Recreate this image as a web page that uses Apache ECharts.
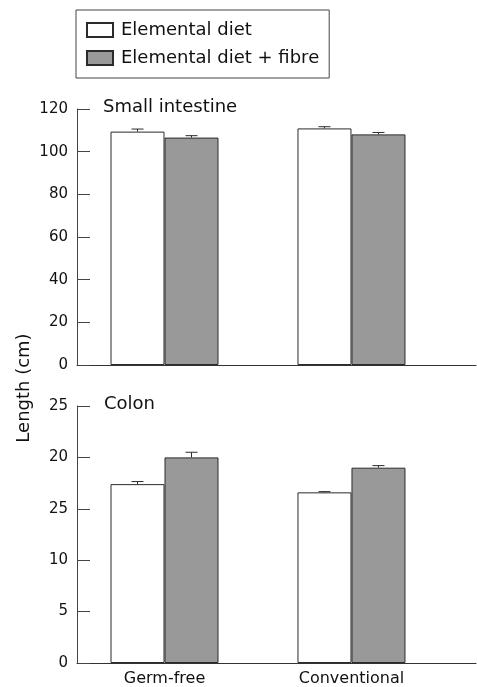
<!DOCTYPE html>
<html>
<head>
<meta charset="utf-8">
<script src="https://cdn.jsdelivr.net/npm/echarts@6/dist/echarts.min.js"></script>
<style>
  html, body { margin: 0; padding: 0; background: #fff; }
  #chart { width: 477px; height: 687px; }
</style>
</head>
<body>
<div id="chart"></div>
<script>
// groups on the x axis
const groups = ['Germ-free', 'Conventional']
const groupPos = [1, 2]
const seriesNames = ['Elemental diet', 'Elemental diet + fibre']

// small intestine length (cm), mean and SE
const siElemental = [109.4, 110.9]
const siElementalErr = [1.2, 0.8]
const siFibre = [106.6, 108.1]
const siFibreErr = [0.9, 0.9]

// colon length (cm), mean and SE
const colonElemental = [17.4, 16.6]
const colonElementalErr = [0.25, 0.07]
const colonFibre = [20.0, 19.0]
const colonFibreErr = [0.5, 0.2]

// tick labels as printed in the figure
const siTicks = ['0', '20', '40', '60', '80', '100', '120']
const colonTicks = ['0', '5', '10', '25', '20', '25']

const FONT = 'DejaVu Sans'
const BAR_W = 54
const edge = '#2b2b2b'

function pairs(vals, errs) {
  return groupPos.map((x, i) => [x, vals[i], errs ? errs[i] : 0])
}

function errSeries(name, xi, yi, vals, errs, off) {
  return {
    name: name,
    type: 'custom',
    xAxisIndex: xi,
    yAxisIndex: yi,
    z: 3,
    silent: true,
    data: pairs(vals, errs),
    renderItem: function(params, api) {
      const base = api.coord([api.value(0), api.value(1)])
      const top = api.coord([api.value(0), api.value(1) + api.value(2)])
      const cx = base[0] + off
      return {
        type: 'group',
        children: [
          { type: 'line', shape: { x1: cx, y1: base[1], x2: cx, y2: top[1] }, style: { stroke: edge, lineWidth: 1 } },
          { type: 'line', shape: { x1: cx - 6, y1: top[1], x2: cx + 6, y2: top[1] }, style: { stroke: edge, lineWidth: 1 } }
        ]
      }
    }
  }
}

function barSeries(name, xi, yi, vals, fill) {
  return {
    name: name,
    type: 'bar',
    xAxisIndex: xi,
    yAxisIndex: yi,
    barWidth: BAR_W,
    barGap: '0%',
    itemStyle: { color: fill, borderColor: edge, borderWidth: 1 },
    data: pairs(vals).map(d => [d[0], d[1]])
  }
}

function xAxisCfg(gi, showLabel) {
  return {
    type: 'value',
    gridIndex: gi,
    min: 0.532,
    max: 2.666,
    splitLine: { show: false },
    axisLine: { onZero: false, lineStyle: { color: '#333', width: 1 } },
    axisTick: { show: false },
    axisLabel: {
      show: showLabel,
      customValues: groupPos,
      margin: 8,
      color: '#111',
      fontFamily: FONT,
      fontSize: 16,
      formatter: v => groups[groupPos.indexOf(v)] || ''
    }
  }
}

function yAxisCfg(gi, max, interval, ticks) {
  return {
    type: 'value',
    gridIndex: gi,
    min: 0,
    max: max,
    interval: interval,
    splitLine: { show: false },
    axisLine: { show: true, onZero: false, lineStyle: { color: '#444', width: 1 } },
    axisTick: { show: true, inside: true, length: 13, lineStyle: { color: '#444' } },
    axisLabel: {
      margin: 9,
      color: '#111',
      fontFamily: FONT,
      fontSize: 15,
      formatter: v => ticks[Math.round(v / interval)]
    }
  }
}

const chart = echarts.init(document.getElementById('chart'))
const option = {
  animation: false,
  backgroundColor: '#fff',
  textStyle: { fontFamily: FONT },
  legend: {
    data: seriesNames,
    orient: 'vertical',
    left: 76,
    top: 10,
    padding: [10, 10, 10, 10],
    borderColor: '#444',
    borderWidth: 1,
    itemWidth: 26,
    itemHeight: 14,
    itemGap: 8,
    icon: 'rect',
    textStyle: { fontFamily: FONT, fontSize: 18, color: '#111', lineHeight: 20, padding: [0, 0, 0, 3] }
  },
  title: [
    { text: 'Small intestine', left: 103, top: 98, padding: 0, textStyle: { fontFamily: FONT, fontSize: 18, fontWeight: 'normal', color: '#111' } },
    { text: 'Colon', left: 104, top: 395, padding: 0, textStyle: { fontFamily: FONT, fontSize: 18, fontWeight: 'normal', color: '#111' } }
  ],
  graphic: [
    {
      type: 'text',
      x: 24,
      y: 388,
      rotation: Math.PI / 2,
      style: { text: 'Length (cm)', fontFamily: FONT, fontSize: 18, fill: '#111', align: 'center', verticalAlign: 'middle' }
    }
  ],
  grid: [
    { left: 77, right: 1, top: 109, height: 256, containLabel: false },
    { left: 77, right: 1, top: 406, height: 257, containLabel: false }
  ],
  xAxis: [xAxisCfg(0, false), xAxisCfg(1, true)],
  yAxis: [yAxisCfg(0, 120, 20, siTicks), yAxisCfg(1, 25, 5, colonTicks)],
  series: [
    barSeries(seriesNames[0], 0, 0, siElemental, '#ffffff'),
    barSeries(seriesNames[1], 0, 0, siFibre, '#999999'),
    errSeries(seriesNames[0], 0, 0, siElemental, siElementalErr, -BAR_W / 2),
    errSeries(seriesNames[1], 0, 0, siFibre, siFibreErr, BAR_W / 2),
    barSeries(seriesNames[0], 1, 1, colonElemental, '#ffffff'),
    barSeries(seriesNames[1], 1, 1, colonFibre, '#999999'),
    errSeries(seriesNames[0], 1, 1, colonElemental, colonElementalErr, -BAR_W / 2),
    errSeries(seriesNames[1], 1, 1, colonFibre, colonFibreErr, BAR_W / 2)
  ]
}
chart.setOption(option)
</script>
</body>
</html>
